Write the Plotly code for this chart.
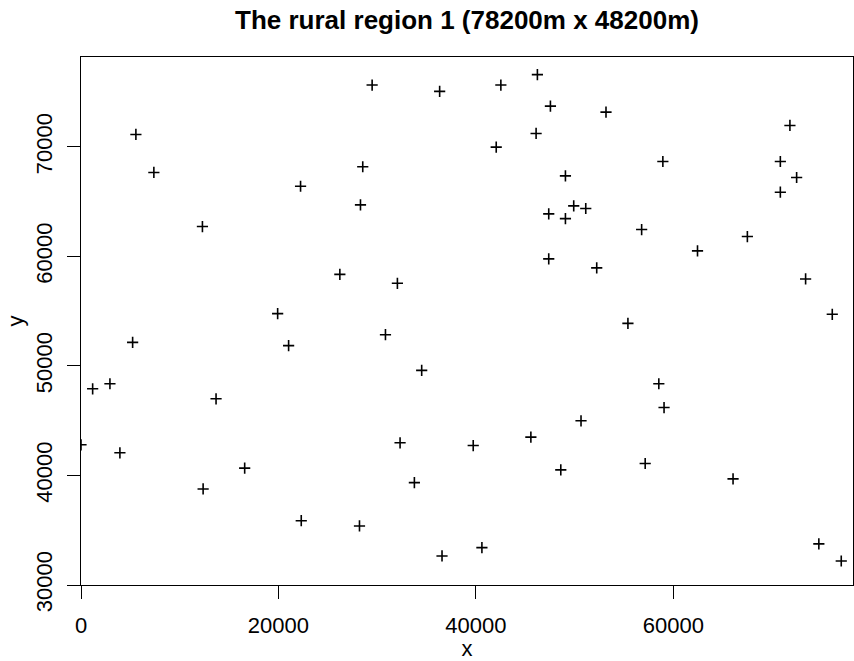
import plotly.graph_objects as go

# Site coordinates (metres) within the rural region
x_m = [
    5560, 7380, 12300, 22240, 1180, 2930, 5230, 3940, 13680, 12370,
    16580, 19920, 21030, 22310, 0, 29490, 36330, 42530, 46230, 47550,
    46100, 42060, 28540, 28310, 49070, 47380, 49070, 49910, 47380, 26220,
    32050, 53180, 71810, 58940, 70840, 72490, 70840, 51130, 56790, 67500,
    62450, 52240, 73400, 30840, 34510, 32320, 39730, 33770, 28210, 36570,
    40610, 45570, 55400, 58530, 59060, 50650, 48600, 57150, 66050, 76100,
    74740, 77010,
]
y_m = [
    71130, 67660, 62720, 66400, 47910, 48370, 52150, 42070, 47000, 38770,
    40670, 54770, 51850, 35870, 42800, 75640, 75060, 75640, 76590, 73720,
    71220, 69970, 68180, 64700, 67350, 63880, 63450, 64610, 59770, 58360,
    57540, 73170, 71950, 68660, 68660, 67200, 65860, 64370, 62450, 61810,
    60500, 58950, 57940, 52850, 49590, 42980, 42730, 39350, 35390, 32650,
    33410, 43500, 53880, 48370, 46200, 44990, 40510, 41090, 39690, 54710,
    33750, 32190,
]

x_range = [0, 78200]
y_range = [30000, 78200]
x_ticks = [0, 20000, 40000, 60000]
y_ticks = [30000, 40000, 50000, 60000, 70000]

FONT = "Liberation Sans, Arial, Helvetica, sans-serif"

fig = go.Figure(
    go.Scatter(
        x=x_m,
        y=y_m,
        mode="markers",
        marker=dict(
            symbol="cross-thin",
            size=8,
            color="black",
            line=dict(color="black", width=1.6),
        ),
        cliponaxis=True,
        hoverinfo="x+y",
    )
)

axis_common = dict(
    showgrid=False,
    zeroline=False,
    showline=True,
    mirror=True,
    linecolor="black",
    linewidth=1,
    ticks="outside",
    ticklen=13,
    tickwidth=1,
    tickcolor="black",
    tickfont=dict(family=FONT, size=22, color="black"),
    title_font=dict(family=FONT, size=22, color="black"),
    automargin=False,
)

fig.update_xaxes(
    range=x_range,
    tickvals=x_ticks,
    ticktext=[str(v) for v in x_ticks],
    ticklabelstandoff=8,
    title_text="x",
    title_standoff=0,
    **axis_common,
)
fig.update_yaxes(
    range=y_range,
    tickvals=y_ticks,
    ticktext=[str(v) for v in y_ticks],
    tickangle=-90,
    ticklabelstandoff=6,
    title_text="y",
    title_standoff=2,
    **axis_common,
)

fig.update_layout(
    width=854,
    height=661,
    margin=dict(l=81, r=1, t=57, b=76, pad=0),
    paper_bgcolor="white",
    plot_bgcolor="white",
    showlegend=False,
    title=dict(
        text="<b>The rural region 1 (78200m x 48200m)</b>",
        font=dict(family=FONT, size=26, color="black"),
        x=0.5,
        xref="paper",
        xanchor="center",
        y=1 - 20 / 661,
        yref="container",
        yanchor="middle",
    ),
)

fig.write_html("out.html")
